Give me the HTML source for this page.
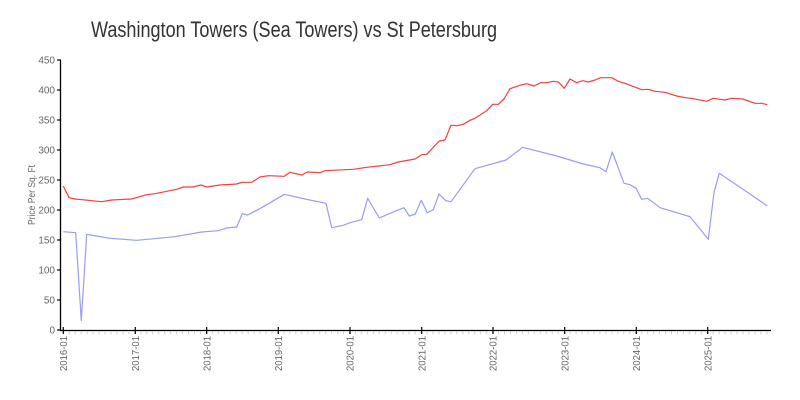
<!DOCTYPE html>
<html><head><meta charset="utf-8"><style>
html,body{margin:0;padding:0;background:#fff;}
svg{display:block;font-family:"Liberation Sans",sans-serif;}
</style></head><body>
<svg width="800" height="400" viewBox="0 0 800 400" xmlns="http://www.w3.org/2000/svg">
<rect width="800" height="400" fill="#fff"/>
<text x="91" y="37" font-size="22" fill="#333" textLength="406" lengthAdjust="spacingAndGlyphs">Washington Towers (Sea Towers) vs St Petersburg</text>

<!-- y axis -->
<line x1="60.5" y1="60" x2="60.5" y2="331" stroke="#000" stroke-width="1.3"/>
<g stroke="#000" stroke-width="1.2">
<line x1="57" y1="330" x2="61" y2="330"/>
<line x1="57" y1="300" x2="61" y2="300"/>
<line x1="57" y1="270" x2="61" y2="270"/>
<line x1="57" y1="240" x2="61" y2="240"/>
<line x1="57" y1="210" x2="61" y2="210"/>
<line x1="57" y1="180" x2="61" y2="180"/>
<line x1="57" y1="150" x2="61" y2="150"/>
<line x1="57" y1="120" x2="61" y2="120"/>
<line x1="57" y1="90" x2="61" y2="90"/>
<line x1="57" y1="60" x2="61" y2="60"/>
</g>
<g font-size="10" fill="#666" text-anchor="end">
<text x="55" y="333.5">0</text>
<text x="55" y="303.5">50</text>
<text x="55" y="273.5">100</text>
<text x="55" y="243.5">150</text>
<text x="55" y="213.5">200</text>
<text x="55" y="183.5">250</text>
<text x="55" y="153.5">300</text>
<text x="55" y="123.5">350</text>
<text x="55" y="93.5">400</text>
<text x="55" y="63.5">450</text>
</g>
<text transform="translate(35,195) rotate(-90)" font-size="10" fill="#666" text-anchor="middle" textLength="60" lengthAdjust="spacingAndGlyphs">Price Per Sq. Ft</text>

<!-- x axis -->
<line x1="60" y1="330.5" x2="771" y2="330.5" stroke="#000" stroke-width="1.3"/>
<line x1="62.8" y1="332.5" x2="771" y2="332.5" stroke="#ccc" stroke-width="3" stroke-dasharray="1 4.9625"/>
<g stroke="#000" stroke-width="1.2">
<line x1="63.3" y1="327" x2="63.3" y2="334"/>
<line x1="135.3" y1="327" x2="135.3" y2="334"/>
<line x1="206.7" y1="327" x2="206.7" y2="334"/>
<line x1="278.3" y1="327" x2="278.3" y2="334"/>
<line x1="350" y1="327" x2="350" y2="334"/>
<line x1="421.7" y1="327" x2="421.7" y2="334"/>
<line x1="493" y1="327" x2="493" y2="334"/>
<line x1="564.7" y1="327" x2="564.7" y2="334"/>
<line x1="636.3" y1="327" x2="636.3" y2="334"/>
<line x1="707.7" y1="327" x2="707.7" y2="334"/>
</g>
<g font-size="10" fill="#666" text-anchor="end">
<text transform="translate(67,336) rotate(-90)" textLength="35" lengthAdjust="spacingAndGlyphs">2016-01</text>
<text transform="translate(139,336) rotate(-90)" textLength="35" lengthAdjust="spacingAndGlyphs">2017-01</text>
<text transform="translate(210.4,336) rotate(-90)" textLength="35" lengthAdjust="spacingAndGlyphs">2018-01</text>
<text transform="translate(282,336) rotate(-90)" textLength="35" lengthAdjust="spacingAndGlyphs">2019-01</text>
<text transform="translate(353.7,336) rotate(-90)" textLength="35" lengthAdjust="spacingAndGlyphs">2020-01</text>
<text transform="translate(425.4,336) rotate(-90)" textLength="35" lengthAdjust="spacingAndGlyphs">2021-01</text>
<text transform="translate(496.7,336) rotate(-90)" textLength="35" lengthAdjust="spacingAndGlyphs">2022-01</text>
<text transform="translate(568.4,336) rotate(-90)" textLength="35" lengthAdjust="spacingAndGlyphs">2023-01</text>
<text transform="translate(640,336) rotate(-90)" textLength="35" lengthAdjust="spacingAndGlyphs">2024-01</text>
<text transform="translate(711.4,336) rotate(-90)" textLength="35" lengthAdjust="spacingAndGlyphs">2025-01</text>
</g>

<!-- series -->
<polyline fill="none" stroke="#ff3b3b" stroke-width="1.2" stroke-linejoin="round" points="63.3,186 69,197.7 75,199 88.3,200.3 101.7,201.7 111.7,200 131.7,199 146.7,194.7 155,193.7 176.7,189.3 183.3,187 193.3,187 201,185 206.7,187 220,185 236.7,184 241.7,182.3 251.7,182.3 260,177 268.3,175.7 284.3,176.3 290,172.3 301.7,175 307.3,172 320,172.7 325,170.7 353.3,169.3 366.7,167.3 390,164.7 398.3,162 415,159 421.7,154.7 426.7,154.3 439.3,141 445,140 451,125.3 456.7,125.7 463.3,124.3 470,120.3 475,118.3 486.7,110.7 492.7,104.3 498.3,104.3 504,99 510,88.7 520,85.3 526.7,83.7 534,86 540.7,82.7 546.7,82.7 553.3,81.3 558.3,82 564.3,88.3 570,79 576.7,82.7 582.7,80.7 588.3,82 595,80 600.7,77.7 611.7,77.7 618.3,81.3 625,83.3 641.7,89.7 648.3,89.3 655,91.3 665,92.3 676.7,96 683.3,97.3 693.3,98.7 706.7,101.3 713.3,98.3 725,100 731.7,98.3 742.7,99 755,103.3 761.7,103.3 767.3,104.7"/>
<polyline fill="none" stroke="#9a9aff" stroke-width="1.2" stroke-linejoin="round" points="63.3,231.7 75.7,232.7 81.3,320.7 86.7,234.3 96.7,236 110,238.3 136.7,240.3 175,236.7 201.7,232 218.3,230.7 226.7,228 236.7,227 242.3,213.7 247.7,215 261.7,207.7 284.3,194.3 305,199 326,203.3 331.7,227.7 343.3,225.3 350,222.7 361.7,219.7 367.7,198.3 379.3,218 390,213.3 404,207.7 409.3,216 415.3,214 421.3,200.3 427.3,212.7 433.3,209.7 439,194 445.7,200.7 451,201.7 475,168.7 506,160 522.7,147.3 556.7,156 583.3,164 600,167.7 606,171.7 612.3,152 624,183.3 630,184.7 636,188.3 641.7,199.3 647.7,198.3 660,207.7 690,216.7 708.3,239.3 714,192.3 719.3,173.3 733.3,182.7 750,194 767.3,206"/>
</svg>
</body></html>
